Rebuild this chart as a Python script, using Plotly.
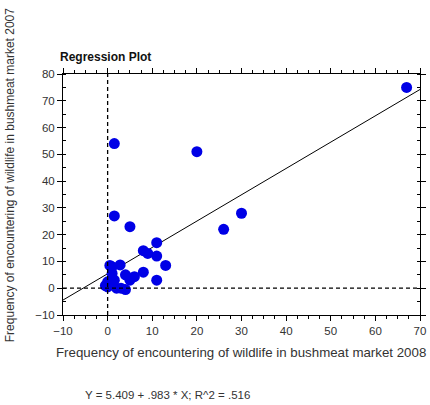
import plotly.graph_objects as go

# Data
x_2008 = [67, 1.5, 20, 1.5, 30, 5, 26, 11, 8, 9, 11, 13, 11, 8, 6, 5,
          1, 2.8, 4, 1, 0, 2, 3, 4, 1.5, 0, -0.5, 0.5]
y_2007 = [75, 54, 51, 27, 28, 23, 22, 17, 14, 13, 12, 8.5, 3, 6, 4.3, 3,
          8, 8.7, 5, 5.5, 0.5, 0, 0, -0.5, 3, 2.4, 1, 8.5]
intercept = 5.409
slope = 0.983
x_range = [-10, 70]
y_range = [-10, 80]
x_title = "Frequency of encountering of wildlife in bushmeat market 2008"
y_title = "Frequency of encountering of wildlife in bushmeat market 2007"
plot_title = "Regression Plot"
equation = "Y = 5.409 + .983 * X; R^2 = .516"

font_family = "Liberation Sans, Arial, sans-serif"
txt_color = "#333333"

fig = go.Figure()

line_x = x_range
line_y = [intercept + slope * v for v in line_x]
fig.add_trace(go.Scatter(x=line_x, y=line_y, mode="lines",
                         line=dict(color="black", width=1), showlegend=False,
                         hoverinfo="skip"))

fig.add_trace(go.Scatter(x=x_2008, y=y_2007, mode="markers",
                         marker=dict(size=11, color="#0000e6",
                                     line=dict(width=0)),
                         showlegend=False))

# reference dashed lines at x=0 and y=0
fig.add_shape(type="line", xref="x", yref="paper", x0=0, x1=0, y0=0, y1=1,
              line=dict(color="black", width=1.3, dash="4px,3px"))
fig.add_shape(type="line", xref="paper", yref="y", x0=0, x1=1, y0=0, y1=0,
              line=dict(color="black", width=1.3, dash="4px,3px"))

axis_common = dict(showgrid=False, zeroline=False, showline=True,
                   linecolor="black", linewidth=1, mirror="ticks",
                   ticks="outside", ticklen=5, tickcolor="black",
                   automargin=False,
                   tickfont=dict(family=font_family, size=11.5, color=txt_color))

fig.update_xaxes(range=x_range, dtick=10, tick0=0,
                 minor=dict(dtick=2.5, ticks="outside", ticklen=3,
                            tickcolor="black"),
                 **axis_common)
fig.update_yaxes(range=y_range, dtick=10, tick0=0,
                 minor=dict(dtick=5, ticks="inside", ticklen=3,
                            tickcolor="black"),
                 **axis_common)

fig.add_annotation(text=f"<b>{plot_title}</b>", xref="paper", yref="paper",
                   x=-0.013, y=1.0, yshift=8, xanchor="left", yanchor="bottom",
                   showarrow=False,
                   font=dict(family=font_family, size=12, color="#111111"))
fig.add_annotation(text=x_title, xref="paper", yref="paper",
                   x=0.5, y=0, xshift=-1, yshift=-37, xanchor="center",
                   yanchor="middle", showarrow=False,
                   font=dict(family=font_family, size=13.3, color=txt_color))
fig.add_annotation(text=y_title, xref="paper", yref="paper",
                   x=0, xshift=-53, y=0.58, xanchor="center", yanchor="middle",
                   textangle=-90, showarrow=False,
                   font=dict(family=font_family, size=12, color=txt_color))
fig.add_annotation(text=equation, xref="paper", yref="paper",
                   x=0, xshift=20, y=0, yshift=-80, xanchor="left",
                   yanchor="middle", showarrow=False,
                   font=dict(family=font_family, size=11.5, color=txt_color))

fig.update_layout(width=430, height=405,
                  margin=dict(l=63, r=10, t=74, b=90),
                  paper_bgcolor="white", plot_bgcolor="white",
                  font=dict(family=font_family))

fig.write_html("out.html", config={"displayModeBar": False},
               post_script="document.body.style.margin='0';")
